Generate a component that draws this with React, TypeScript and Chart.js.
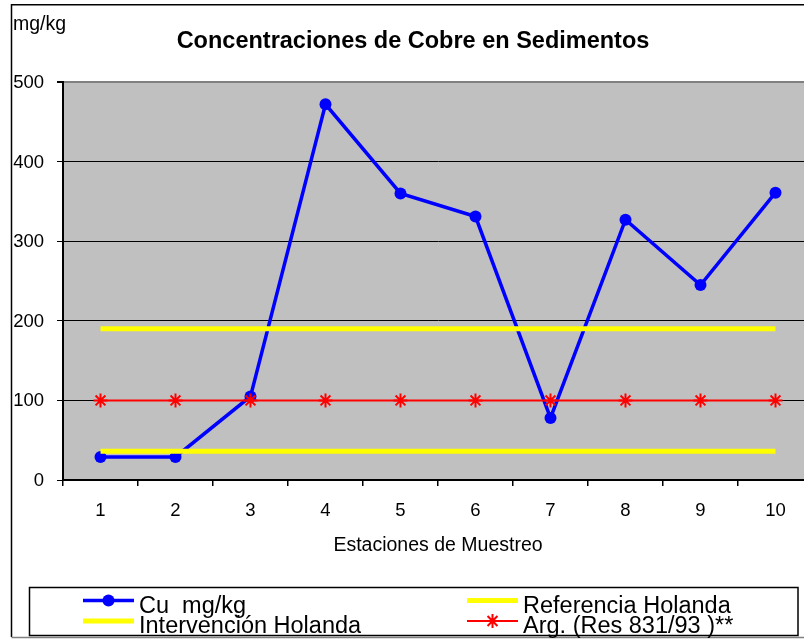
import React, { useEffect, useRef } from 'react';
import { Chart, registerables } from 'chart.js';

Chart.register(...registerables);

const categories = ['1', '2', '3', '4', '5', '6', '7', '8', '9', '10'];
const cuValues = [29, 29, 105, 472, 360, 331, 78, 327, 245, 361];
const referenciaValues = [36, 36, 36, 36, 36, 36, 36, 36, 36, 36];
const intervencionValues = [190, 190, 190, 190, 190, 190, 190, 190, 190, 190];
const argValues = [100, 100, 100, 100, 100, 100, 100, 100, 100, 100];
const yMin = 0;
const yMax = 500;
const yStep = 100;

const chartTitle = 'Concentraciones de Cobre en Sedimentos';
const yUnitLabel = 'mg/kg';
const xAxisTitle = 'Estaciones de Muestreo';

const FONT = '"Liberation Sans", Arial, Helvetica, sans-serif';

function drawStar(ctx: CanvasRenderingContext2D, x: number, y: number, r: number) {
  ctx.beginPath();
  ctx.moveTo(x, y - r);
  ctx.lineTo(x, y + r);
  ctx.moveTo(x - r, y);
  ctx.lineTo(x + r, y);
  const d = r * Math.SQRT1_2;
  ctx.moveTo(x - d, y - d);
  ctx.lineTo(x + d, y + d);
  ctx.moveTo(x - d, y + d);
  ctx.lineTo(x + d, y - d);
  ctx.stroke();
}

const decorPlugin = {
  id: 'decor',
  beforeDraw(chart: any) {
    const { ctx, chartArea: a } = chart;
    ctx.save();
    ctx.fillStyle = '#FFFFFF';
    ctx.fillRect(0, 0, chart.width, chart.height);
    ctx.fillStyle = '#C0C0C0';
    ctx.fillRect(a.left, a.top, a.right - a.left, a.bottom - a.top);
    ctx.restore();
  },
  afterDraw(chart: any) {
    const { ctx } = chart;
    ctx.save();
    // outer frame
    ctx.strokeStyle = '#000000';
    ctx.lineWidth = 1.5;
    ctx.beginPath();
    ctx.moveTo(11.5, 637);
    ctx.lineTo(11.5, 4.75);
    ctx.lineTo(chart.width, 4.75);
    ctx.stroke();
    ctx.strokeStyle = '#808080';
    ctx.beginPath();
    ctx.moveTo(11.5, 637.5);
    ctx.lineTo(chart.width, 637.5);
    ctx.stroke();

    // title
    ctx.fillStyle = '#000000';
    ctx.font = `bold 23.5px ${FONT}`;
    ctx.textAlign = 'center';
    ctx.textBaseline = 'middle';
    ctx.fillText(chartTitle, 413, 42);

    // unit label
    ctx.font = `19.5px ${FONT}`;
    ctx.textAlign = 'left';
    ctx.textBaseline = 'alphabetic';
    ctx.fillText(yUnitLabel, 13, 30);

    // legend box
    ctx.strokeStyle = '#000000';
    ctx.lineWidth = 1.5;
    ctx.strokeRect(29.5, 587.5, 768.5, 48);

    const colX = [83, 467];
    const rowSymY = [600.5, 621];
    const rowTextY = [613, 633];
    ctx.font = `23.5px ${FONT}`;
    chart.data.datasets.forEach((ds: any, i: number) => {
      const col = i % 2;
      const row = Math.floor(i / 2);
      const x0 = colX[col];
      const x1 = x0 + 51;
      const y = rowSymY[row];
      ctx.strokeStyle = ds.borderColor;
      ctx.lineWidth = ds.borderWidth;
      ctx.beginPath();
      ctx.moveTo(x0, y);
      ctx.lineTo(x1, y);
      ctx.stroke();
      if (ds.pointRadius > 0) {
        const cx = (x0 + x1) / 2;
        if (ds.pointStyle === 'star') {
          ctx.strokeStyle = ds.pointBorderColor;
          ctx.lineWidth = ds.pointBorderWidth;
          drawStar(ctx, cx, y, ds.pointRadius);
        } else {
          ctx.fillStyle = ds.pointBackgroundColor;
          ctx.beginPath();
          ctx.arc(cx, y, ds.pointRadius, 0, Math.PI * 2);
          ctx.fill();
        }
      }
      ctx.fillStyle = '#000000';
      ctx.textAlign = 'left';
      ctx.textBaseline = 'alphabetic';
      ctx.fillText(ds.label, x1 + 5, rowTextY[row]);
    });
    ctx.restore();
  },
};

export default function App() {
  const canvasRef = useRef<HTMLCanvasElement | null>(null);

  useEffect(() => {
    if (!canvasRef.current) return;
    Chart.defaults.font.family = FONT;
    Chart.defaults.color = '#000000';
    const chart = new Chart(canvasRef.current, {
      type: 'line',
      data: {
        labels: categories,
        datasets: [
          {
            label: 'Cu  mg/kg',
            data: cuValues,
            borderColor: '#0000FF',
            backgroundColor: '#0000FF',
            borderWidth: 3.5,
            pointRadius: 6,
            pointStyle: 'circle',
            pointBackgroundColor: '#0000FF',
            pointBorderColor: '#0000FF',
            pointBorderWidth: 0,
            tension: 0,
            order: 3,
          } as any,
          {
            label: 'Referencia Holanda',
            data: referenciaValues,
            borderColor: '#FFFF00',
            backgroundColor: '#FFFF00',
            borderWidth: 5,
            pointRadius: 0,
            order: 2,
          },
          {
            label: 'Intervención Holanda',
            data: intervencionValues,
            borderColor: '#FFFF00',
            backgroundColor: '#FFFF00',
            borderWidth: 5,
            pointRadius: 0,
            order: 1,
          },
          {
            label: 'Arg. (Res 831/93 )**',
            data: argValues,
            borderColor: '#FF0000',
            backgroundColor: '#FF0000',
            borderWidth: 2,
            pointStyle: 'star',
            pointRadius: 7,
            pointBorderColor: '#FF0000',
            pointBackgroundColor: '#FF0000',
            pointBorderWidth: 2,
            order: 0,
          },
        ],
      },
      options: {
        animation: false,
        responsive: false,
        devicePixelRatio: 1,
        events: [],
        layout: { padding: { top: 82, left: 0, right: 17, bottom: 64 } },
        plugins: {
          legend: { display: false },
          title: { display: false },
          tooltip: { enabled: false },
        },
        scales: {
          x: {
            type: 'category',
            offset: true,
            afterFit: (scale: any) => {
              scale.height = 95;
            },
            grid: {
              display: true,
              drawOnChartArea: false,
              drawTicks: true,
              tickLength: 6,
              color: '#000000',
              tickColor: '#000000',
              lineWidth: 1.5,
              offset: true,
            },
            border: { display: true, color: '#000000', width: 2 },
            ticks: {
              font: { size: 18.5 },
              color: '#000000',
              padding: 14,
              maxRotation: 0,
              autoSkip: false,
            },
            title: {
              display: true,
              text: xAxisTitle,
              font: { size: 19.5 },
              color: '#000000',
              padding: { top: 0, bottom: 18 },
            },
          },
          y: {
            min: yMin,
            max: yMax,
            afterFit: (scale: any) => {
              scale.width = 63;
            },
            ticks: {
              stepSize: yStep,
              font: { size: 18.5 },
              color: '#000000',
              padding: 13,
              labelOffset: 1,
            },
            grid: {
              color: (c: any) => (c.tick && c.tick.value === yMax ? '#808080' : '#000000'),
              tickColor: '#000000',
              lineWidth: (c: any) => (c.tick && c.tick.value === yMax ? 2 : 1),
              tickLength: 6,
              drawTicks: true,
            },
            border: { display: true, color: '#000000', width: 2 },
          },
        },
      },
      plugins: [decorPlugin],
    });
    return () => chart.destroy();
  }, []);

  return (
    <div
      style={{
        position: 'absolute',
        left: 0,
        top: 0,
        width: 804,
        height: 639,
        overflow: 'hidden',
        background: '#FFFFFF',
      }}
    >
      <canvas
        ref={canvasRef}
        width={830}
        height={639}
        style={{ display: 'block', width: '830px', height: '639px' }}
      />
    </div>
  );
}
